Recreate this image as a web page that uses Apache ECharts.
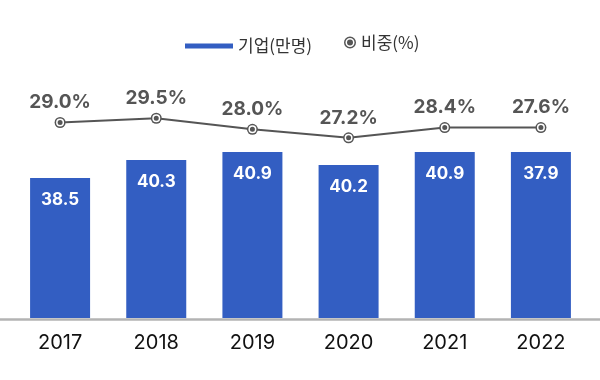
<!DOCTYPE html>
<html>
<head>
<meta charset="utf-8">
<script src="https://cdn.jsdelivr.net/npm/echarts@6/dist/echarts.min.js"></script>
<style>html,body{margin:0;padding:0;background:#fff}#c{width:600px;height:380px}</style>
</head>
<body>
<div id="c"></div>
<script>
// Data
const categories = ['2017', '2018', '2019', '2020', '2021', '2022'];
// printed values
const companyLabels = [38.5, 40.3, 40.9, 40.2, 40.9, 37.9];
const shareLabels = [29.0, 29.5, 28.0, 27.2, 28.4, 27.6];
// drawn heights
const companyLevels = [38.5, 40.3, 41.1, 39.8, 41.1, 41.1];
const shareLevels = [29.0, 29.5, 28.2, 27.2, 28.4, 28.4];

const NUM_FONT = 'Inter, Roboto, sans-serif';
const KR_FONT = '"Noto Sans CJK KR", sans-serif';
const DARK = '#555555';
const BLUE = '#335ec2';
const ringIcon = 'path://M6,0 A6,6 0 1,1 6,12 A6,6 0 1,1 6,0 Z M6,1.5 A4.5,4.5 0 1,0 6,10.5 A4.5,4.5 0 1,0 6,1.5 Z M6,3 A3,3 0 1,1 6,9 A3,3 0 1,1 6,3 Z';

const chart = echarts.init(document.getElementById('c'), null, {renderer: 'canvas'});
chart.setOption({
  animation: false,
  backgroundColor: '#ffffff',
  legend: [{
    data: [{name: '기업(만명)', icon: 'rect'}],
    left: 185, top: 37.5, padding: 0,
    itemWidth: 48, itemHeight: 5, itemGap: 0,
    textStyle: {fontFamily: KR_FONT, fontSize: 17, color: '#333'}
  }, {
    data: [{name: '비중(%)', icon: ringIcon}],
    left: 344, top: 34, padding: 0,
    itemWidth: 12, itemHeight: 12,
    textStyle: {fontFamily: KR_FONT, fontSize: 17, color: '#333'}
  }],
  grid: {left: 12, right: 11, top: 63, bottom: 62},
  xAxis: {
    type: 'category',
    data: categories,
    axisLine: {show: false},
    axisTick: {show: false},
    axisLabel: {margin: 15, fontFamily: NUM_FONT, fontSize: 20, color: '#111'}
  },
  yAxis: [
    {type: 'value', min: 24.5, max: 50, show: false},
    {type: 'value', min: 6, max: 36, show: false}
  ],
  graphic: [{
    type: 'line',
    shape: {x1: 0, y1: 319.5, x2: 600, y2: 319.5},
    style: {stroke: '#b3b3b3', lineWidth: 2.5},
    z: 10
  }],
  series: [
    {
      name: '기업(만명)',
      type: 'bar',
      yAxisIndex: 0,
      data: companyLevels,
      barWidth: 60,
      itemStyle: {color: BLUE},
      label: {
        show: true, position: 'insideTop', distance: 13,
        formatter: p => companyLabels[p.dataIndex].toFixed(1),
        fontFamily: NUM_FONT, fontSize: 17, fontWeight: 'bold', color: '#fff'
      }
    },
    {
      name: '비중(%)',
      type: 'line',
      yAxisIndex: 1,
      data: shareLevels,
      symbol: 'circle',
      symbolSize: 11,
      lineStyle: {color: DARK, width: 2},
      itemStyle: {color: DARK},
      label: {
        show: true, position: 'top', distance: 5,
        formatter: p => shareLabels[p.dataIndex].toFixed(1) + '%',
        fontFamily: NUM_FONT, fontSize: 19, fontWeight: 'bold', color: DARK
      },
      z: 5
    },
    {
      name: 'dots',
      type: 'line',
      yAxisIndex: 1,
      data: shareLevels,
      symbol: 'circle',
      symbolSize: 6.5,
      lineStyle: {width: 0, opacity: 0},
      itemStyle: {color: DARK, borderColor: '#fff', borderWidth: 1.5},
      silent: true,
      z: 6
    }
  ]
});
</script>
</body>
</html>
